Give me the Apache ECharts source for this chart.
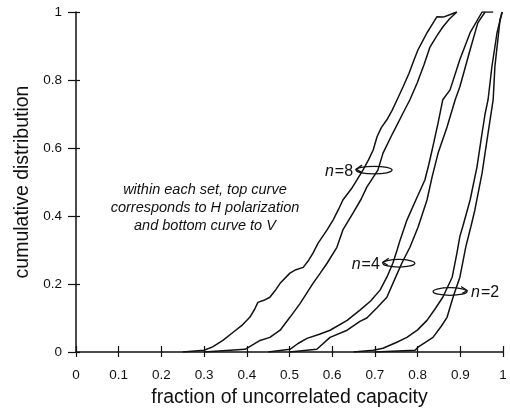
<!DOCTYPE html>
<html>
<head>
<meta charset="utf-8">
<script src="https://cdn.jsdelivr.net/npm/echarts@6/dist/echarts.min.js"></script>
<style>
  html, body { margin: 0; padding: 0; background: #fff; }
  #chart { width: 510px; height: 415px; }
</style>
</head>
<body>
<div id="chart"></div>
<script>
// ---- data (x = fraction of uncorrelated capacity, y = CDF) ----
var xTicks = [0, 0.1, 0.2, 0.3, 0.4, 0.5, 0.6, 0.7, 0.8, 0.9, 1];
var yTicks = [0, 0.2, 0.4, 0.6, 0.8, 1];

var n8H = [[0.25,0],[0.30,0.005],[0.32,0.015],[0.344,0.034],[0.368,0.058],[0.39,0.08],[0.407,0.102],[0.418,0.125],[0.426,0.146],[0.44,0.152],[0.454,0.161],[0.466,0.18],[0.478,0.202],[0.501,0.232],[0.515,0.242],[0.532,0.249],[0.545,0.27],[0.555,0.291],[0.567,0.32],[0.588,0.359],[0.602,0.388],[0.615,0.42],[0.625,0.447],[0.645,0.48],[0.658,0.506],[0.672,0.535],[0.685,0.565],[0.696,0.594],[0.705,0.633],[0.715,0.66],[0.728,0.683],[0.74,0.71],[0.752,0.742],[0.766,0.78],[0.78,0.82],[0.792,0.86],[0.801,0.889],[0.812,0.915],[0.822,0.939],[0.835,0.965],[0.845,0.986],[0.86,0.985],[0.875,0.992],[0.892,1]];
var n8V = [[0.30,0],[0.396,0.008],[0.431,0.034],[0.454,0.043],[0.478,0.064],[0.501,0.102],[0.525,0.143],[0.555,0.202],[0.572,0.232],[0.588,0.261],[0.611,0.308],[0.625,0.359],[0.649,0.409],[0.668,0.45],[0.681,0.485],[0.707,0.535],[0.719,0.585],[0.742,0.644],[0.766,0.703],[0.782,0.742],[0.799,0.791],[0.815,0.845],[0.829,0.897],[0.845,0.93],[0.859,0.956],[0.875,0.98],[0.892,1]];
var n4H = [[0.45,0],[0.501,0.008],[0.52,0.025],[0.541,0.040],[0.57,0.052],[0.595,0.064],[0.635,0.093],[0.665,0.123],[0.69,0.15],[0.712,0.182],[0.728,0.22],[0.742,0.261],[0.752,0.3],[0.759,0.329],[0.775,0.388],[0.799,0.456],[0.817,0.506],[0.826,0.55],[0.834,0.594],[0.848,0.674],[0.859,0.742],[0.876,0.771],[0.899,0.860],[0.923,0.939],[0.951,1.0],[0.977,1.0]];
var n4V = [[0.5,0],[0.564,0.008],[0.595,0.043],[0.635,0.064],[0.665,0.09],[0.681,0.1],[0.705,0.13],[0.728,0.161],[0.745,0.21],[0.763,0.261],[0.782,0.308],[0.801,0.367],[0.822,0.447],[0.834,0.515],[0.848,0.585],[0.869,0.662],[0.888,0.742],[0.899,0.780],[0.923,0.889],[0.941,0.968],[0.958,1.0]];
var n2H = [[0.65,0],[0.696,0.005],[0.719,0.011],[0.75,0.028],[0.775,0.043],[0.8,0.065],[0.822,0.093],[0.84,0.125],[0.859,0.161],[0.881,0.220],[0.892,0.29],[0.899,0.34],[0.906,0.37],[0.923,0.447],[0.939,0.544],[0.951,0.644],[0.958,0.7],[0.965,0.742],[0.974,0.839],[0.986,0.939],[0.998,1]];
var n2V = [[0.7,0],[0.794,0.005],[0.801,0.014],[0.82,0.03],[0.836,0.043],[0.855,0.075],[0.869,0.102],[0.883,0.161],[0.899,0.220],[0.913,0.31],[0.925,0.37],[0.934,0.417],[0.951,0.526],[0.965,0.644],[0.977,0.742],[0.981,0.839],[0.993,0.977],[0.998,1]];

var noteLines = ['within each set, top curve', 'corresponds to H polarization', 'and bottom curve to V'];
var groupLabels = ['8', '4', '2'];

// ---- chart ----
var FONT = '"Liberation Sans", Arial, Helvetica, sans-serif';
var INK = '#111';
var chart = echarts.init(document.getElementById('chart'), null, { renderer: 'canvas' });

function baseAxis(extra) {
  var a = {
    type: 'value',
    axisLine: { show: true, onZero: false, lineStyle: { color: INK, width: 1.5 } },
    axisTick: { show: true, inside: false, length: 5, lineStyle: { color: INK, width: 1.2 } },
    splitLine: { show: false },
    axisLabel: { show: true, color: INK, fontFamily: FONT, fontSize: 13 }
  };
  for (var k in extra) a[k] = extra[k];
  return a;
}

function curve(name, data) {
  return {
    name: name, type: 'line', data: data, xAxisIndex: 0, yAxisIndex: 0,
    showSymbol: false, symbol: 'none', smooth: false, silent: true,
    lineStyle: { color: INK, width: 1.5 }, z: 5
  };
}

chart.setOption({
  animation: false,
  backgroundColor: '#fff',
  grid: { left: 76, right: 7, top: 12, bottom: 63, containLabel: false, outerBoundsMode: 'none' },
  xAxis: [
    baseAxis({
      min: xTicks[0], max: xTicks[xTicks.length - 1], interval: 0.1, position: 'bottom', offset: 0,
      axisTick: { show: true, inside: false, length: 5, lineStyle: { color: INK, width: 1.2 } },
      axisLabel: { show: true, color: INK, fontFamily: FONT, fontSize: 13.5, margin: 16 },
      name: 'fraction of uncorrelated capacity', nameLocation: 'middle', nameGap: 36,
      nameTextStyle: { color: INK, fontFamily: FONT, fontSize: 19.5 }
    }),
    baseAxis({
      min: xTicks[0], max: xTicks[xTicks.length - 1], interval: 0.1, position: 'bottom', offset: 0,
      axisLine: { show: false },
      axisTick: { show: true, inside: true, length: 6, lineStyle: { color: INK, width: 1.2 } },
      axisLabel: { show: false }
    })
  ],
  yAxis: [
    baseAxis({
      min: yTicks[0], max: yTicks[yTicks.length - 1], interval: 0.2, position: 'left', offset: 0,
      axisTick: { show: true, inside: false, length: 8, lineStyle: { color: INK, width: 1.2 } },
      axisLabel: { show: true, color: INK, fontFamily: FONT, fontSize: 13.5, margin: 14 },
      name: 'cumulative distribution', nameLocation: 'middle', nameGap: 42,
      nameTextStyle: { color: INK, fontFamily: FONT, fontSize: 19.5 }
    }),
    baseAxis({
      min: yTicks[0], max: yTicks[yTicks.length - 1], interval: 0.2, position: 'left', offset: 0,
      axisLine: { show: false },
      axisTick: { show: true, inside: true, length: 4, lineStyle: { color: INK, width: 1.2 } },
      axisLabel: { show: false }
    })
  ],
  series: [
    curve('n=8 H', n8H), curve('n=8 V', n8V),
    curve('n=4 H', n4H), curve('n=4 V', n4V),
    curve('n=2 H', n2H), curve('n=2 V', n2V)
  ]
});

// ---- annotations (anchored in data coordinates) ----
function px(pt) { return chart.convertToPixel({ gridIndex: 0 }, pt); }

var noteAnchor = px([0.302, 0.476]);
var elements = [];
noteLines.forEach(function (t, i) {
  elements.push({
    type: 'text', x: noteAnchor[0], y: noteAnchor[1] + i * 18, silent: true,
    style: { text: t, fill: INK, font: 'italic 14.5px ' + FONT, textAlign: 'center', textVerticalAlign: 'middle' }
  });
});

// loops: center in data coords, label side
var loops = [
  { c: [0.698, 0.535], rx: 18, side: 'left', label: groupLabels[0] },
  { c: [0.756, 0.261], rx: 16, side: 'left', label: groupLabels[1] },
  { c: [0.876, 0.178], rx: 17, side: 'right', label: groupLabels[2] }
];
loops.forEach(function (L) {
  var p = px(L.c);
  var cx = p[0], cy = p[1], rx = L.rx, ry = 3.8;
  elements.push({
    type: 'ellipse', shape: { cx: cx, cy: cy, rx: rx, ry: ry }, silent: true, z: 10,
    style: { fill: null, stroke: INK, lineWidth: 1.3 }
  });
  var ex = L.side === 'left' ? cx - rx : cx + rx;
  var d = L.side === 'left' ? 1 : -1;
  elements.push({
    type: 'polyline', silent: true, z: 10,
    shape: { points: [[ex + d * 6, cy - 5], [ex, cy - 1], [ex + d * 5, cy + 2]] },
    style: { fill: null, stroke: INK, lineWidth: 1.3 }
  });
  var lx = L.side === 'left' ? cx - rx - 3 : cx + rx + 4;
  elements.push({
    type: 'text', x: lx, y: cy + 1, silent: true, z: 10,
    style: {
      text: '{i|n}{r|=' + L.label + '}',
      textAlign: L.side === 'left' ? 'right' : 'left', textVerticalAlign: 'middle',
      fill: INK,
      rich: {
        i: { fontStyle: 'italic', fontSize: 16, fontFamily: FONT, fill: INK, padding: [0, 1, 0, 0] },
        r: { fontSize: 16, fontFamily: FONT, fill: INK }
      }
    }
  });
});

chart.setOption({ graphic: { elements: elements } });
</script>
</body>
</html>
